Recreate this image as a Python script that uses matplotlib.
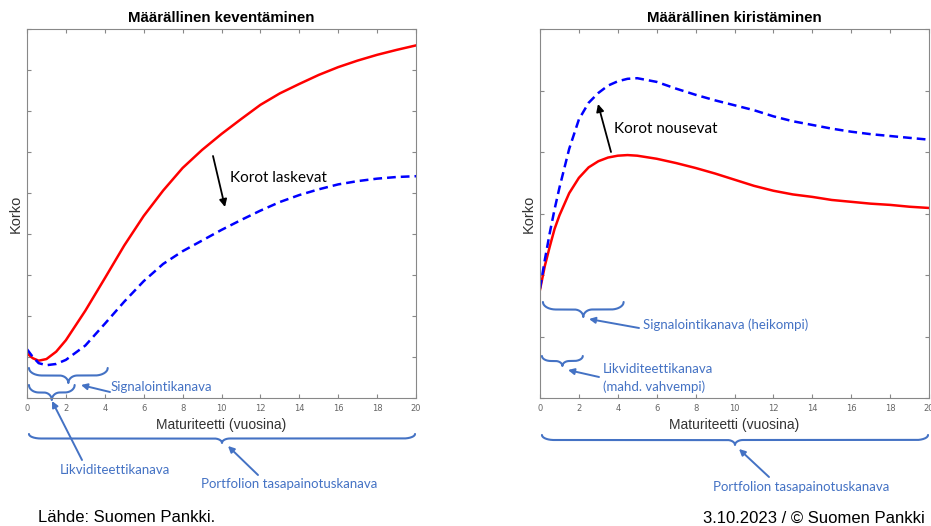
import numpy as np
import matplotlib
matplotlib.use("Agg")
import matplotlib.pyplot as plt
from matplotlib.patches import FancyArrowPatch
from matplotlib.transforms import Affine2D, blended_transform_factory

# Maturiteetti (vuosina)
mat_left = [0, 0.3, 0.6, 1, 1.5, 2, 3, 4, 5, 6, 7, 8, 9, 10, 11, 12, 13, 14, 15, 16, 17, 18, 19, 20]
easing_before = [1.09, 0.97, 0.91, 0.95, 1.13, 1.41, 2.13, 2.92, 3.72, 4.44, 5.06, 5.61, 6.05, 6.44,
                 6.80, 7.15, 7.43, 7.66, 7.88, 8.07, 8.23, 8.37, 8.49, 8.60]
easing_after = [1.19, 1.00, 0.85, 0.80, 0.83, 0.93, 1.28, 1.81, 2.35, 2.85, 3.27, 3.58, 3.84, 4.10,
                4.34, 4.57, 4.78, 4.95, 5.09, 5.21, 5.29, 5.35, 5.39, 5.41]

mat_right = [0, 0.25, 0.5, 0.75, 1, 1.5, 2, 2.5, 3, 3.5, 4, 4.5, 5, 6, 7, 8, 9, 10,
             11, 12, 13, 14, 15, 16, 17, 18, 19, 20]
tight_before = [1.76, 2.15, 2.46, 2.75, 2.97, 3.33, 3.58, 3.75, 3.85, 3.91, 3.94, 3.95, 3.94, 3.89,
                3.82, 3.74, 3.65, 3.55, 3.45, 3.37, 3.31, 3.27, 3.22, 3.19, 3.16, 3.14, 3.11, 3.09]
tight_after = [1.78, 2.25, 2.68, 3.07, 3.42, 4.05, 4.53, 4.80, 4.96, 5.08, 5.15, 5.19, 5.20, 5.14,
               5.03, 4.93, 4.84, 4.76, 4.68, 4.58, 4.50, 4.44, 4.38, 4.33, 4.29, 4.26, 4.23, 4.20]

# kanavien maturiteettivälit (aaltosulkeet)
signal_left = (0.1, 4.15)
liquidity_left = (0.1, 2.45)
signal_right = (0.15, 4.3)
liquidity_right = (0.1, 2.2)
portfolio_range = (0.1, 19.95)

W, H = 931, 526
BLUE_TXT = '#4472c4'
ANNOT_FONT = ['Lato', 'DejaVu Sans']
MAIN_FONT = ['Liberation Sans', 'DejaVu Sans']

fig = plt.figure(figsize=(W / 100, H / 100), dpi=100)
px = Affine2D().scale(1 / W, -1 / H).translate(0, 1) + fig.transFigure


def style_axes(ax, title, ymax, ylab_x):
    ax.set_xlim(0, 20)
    ax.set_ylim(0, ymax)
    ax.set_xticks(np.arange(0, 21, 2))
    ax.set_yticks(np.arange(0, ymax + 1, 1))
    ax.set_yticklabels([])
    ax.tick_params(direction='in', top=True, right=True, length=3, color='#888888',
                   labelsize=6, labelcolor='#666666', pad=4)
    for sp in ax.spines.values():
        sp.set_color('#888888')
        sp.set_linewidth(0.8)
    ax.set_title(title, fontsize=10.8, fontweight='bold', family=MAIN_FONT, pad=5)
    ax.set_ylabel('Korko', fontsize=10.5, family=MAIN_FONT, color='#333333')
    ax.yaxis.set_label_coords(ylab_x, 0.5)
    ax.set_xlabel('Maturiteetti (vuosina)', fontsize=10, family=MAIN_FONT,
                  color='#333333', labelpad=4)


def brace(ax, xr, y_top, h, r_end=13, r_tip=9, lw=1.5):
    # aaltosulje: päät ylhäällä, kärki alaspäin (y pikseleinä)
    tr = blended_transform_factory(ax.transData, px)
    scale = 19.45  # pikseliä / vuosi
    mid = 0.5 * (xr[0] + xr[1])
    d = np.linspace(0, 1, 40)
    seg1_x = xr[0] + d * r_end / scale
    seg1_y = 0.5 * h * np.sqrt(1 - (1 - d) ** 2)
    seg2_x = mid - r_tip / scale + d * r_tip / scale
    seg2_y = 0.5 * h + 0.5 * h * (1 - np.sqrt(1 - d ** 2))
    hx = np.concatenate([seg1_x, seg2_x])
    hy = np.concatenate([seg1_y, seg2_y])
    xb = np.concatenate([hx, 2 * mid - hx[::-1]])
    yb = np.concatenate([hy, hy[::-1]])
    ax.plot(xb, y_top + yb, color=BLUE_TXT, lw=lw, transform=tr, clip_on=False,
            solid_capstyle='round')


def arrow(start, end, color=BLUE_TXT, scale=9, lw=1.4):
    fig.add_artist(FancyArrowPatch(start, end, transform=px, arrowstyle='-|>',
                                   mutation_scale=scale, color=color, lw=lw,
                                   shrinkA=0, shrinkB=0))


def label(x, y, s, color=BLUE_TXT, size=9.5, ha='left'):
    fig.text(x, y, s, transform=px, color=color, fontsize=size, family=ANNOT_FONT,
             ha=ha, va='center')


# --- Määrällinen keventäminen ---
ax1 = fig.add_axes([27 / W, 1 - 398 / H, 389 / W, 369 / H])
ax1.plot(mat_left, easing_before, color='#ff0000', lw=1.8)
ax1.plot(mat_left, easing_after, color='#0000ff', lw=1.8, dashes=(3.5, 2))
style_axes(ax1, 'Määrällinen keventäminen', 9, -0.012)

# --- Määrällinen kiristäminen ---
ax2 = fig.add_axes([540 / W, 1 - 398 / H, 389 / W, 369 / H])
ax2.plot(mat_right, tight_before, color='#ff0000', lw=1.8)
ax2.plot(mat_right, tight_after, color='#0000ff', lw=1.8, dashes=(3.5, 2))
style_axes(ax2, 'Määrällinen kiristäminen', 6, -0.01)

# nuolet ja tekstit
arrow((213, 156), (225, 207), color='black', scale=11, lw=1.3)
label(230, 178, 'Korot laskevat', color='black', size=11)
arrow((611, 152), (598, 104), color='black', scale=11, lw=1.3)
label(614, 129, 'Korot nousevat', color='black', size=11)

# vasen: kanavat
brace(ax1, signal_left, 368, 15)
brace(ax1, liquidity_left, 385, 15, r_end=10, r_tip=8)
brace(ax1, portfolio_range, 434, 9, r_end=12, r_tip=8)
arrow((110, 392), (81, 385))
label(111, 387, 'Signalointikanava')
arrow((82, 460), (52, 401))
label(60, 470, 'Likviditeettikanava')
arrow((258, 475), (228, 446))
label(201, 484, 'Portfolion tasapainotuskanava')

# oikea: kanavat
brace(ax2, signal_right, 302, 15)
brace(ax2, liquidity_right, 356, 10, r_end=9, r_tip=7)
brace(ax2, portfolio_range, 435, 10, r_end=12, r_tip=8)
arrow((639, 328), (589, 319))
label(643, 325, 'Signalointikanava (heikompi)')
arrow((599, 377), (568, 370))
label(603, 369, 'Likviditeettikanava')
label(603, 387, '(mahd. vahvempi)')
arrow((769, 477), (739, 449))
label(713, 487, 'Portfolion tasapainotuskanava')

# alatunniste
fig.text(38, 518, 'Lähde: Suomen Pankki.', transform=px, fontsize=12, family=MAIN_FONT,
         ha='left', va='center')
fig.text(925, 518, '3.10.2023 / © Suomen Pankki', transform=px, fontsize=12,
         family=MAIN_FONT, ha='right', va='center')

fig.savefig('out.png', dpi=100)
